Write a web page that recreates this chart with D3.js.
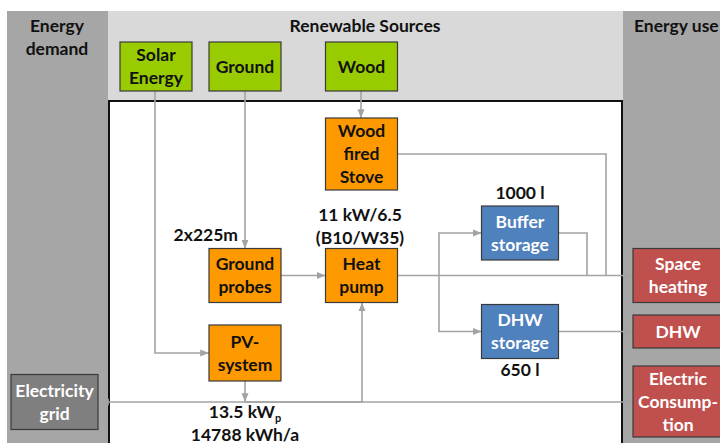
<!DOCTYPE html>
<html>
<head>
<meta charset="utf-8">
<script src="https://cdn.jsdelivr.net/npm/d3@7"></script>
<style>
  body { margin: 0; background: #fff; }
  text { font-family: Lato, "Open Sans", sans-serif; font-weight: bold; }
</style>
</head>
<body>
<svg id="chart" width="720" height="443"></svg>
<script>
// --- data ---
const nodeIds    = ["solar", "ground", "wood", "stove", "probes", "hp", "pv", "buffer", "dhwst", "space", "dhw", "elec", "grid"];
const nodeLabels = [["Solar", "Energy"], ["Ground"], ["Wood"], ["Wood", "fired", "Stove"], ["Ground", "probes"], ["Heat", "pump"],
                    ["PV-", "system"], ["Buffer", "storage"], ["DHW", "storage"], ["Space", "heating"], ["DHW"], ["Electric", "Consump-", "tion"], ["Electricity", "grid"]];
const nodeKinds  = ["source", "source", "source", "device", "device", "device", "device", "storage", "storage", "use", "use", "use", "grid"];
const nodeCols   = ["solar", "ground", "mid", "mid", "ground", "mid", "ground", "store", "store", "use", "use", "use", "grid"];
const nodeRows   = ["src", "src", "src", "stove", "hp", "hp", "pv", "buffer", "dhw", "hp", "dhwuse", "elec", "bus"];
// links: [from, to]
const links = [
  ["solar", "pv"], ["ground", "probes"], ["wood", "stove"], ["probes", "hp"], ["hp", "space"],
  ["stove", "space"], ["hp", "buffer"], ["hp", "dhwst"], ["buffer", "space"], ["dhwst", "dhw"],
  ["pv", "bus"], ["bus", "grid"], ["bus", "hp"], ["bus", "elec"]
];
const panelTitles = ["Energy\ndemand", "Renewable Sources", "Energy use"];
const notes = [["2x225m"], ["11 kW/6.5", "(B10/W35)"], ["1000 l"], ["650 l"], ["13.5 kW_p", "14788 kWh/a"]];

// --- layout scales ---
const x = d3.scaleOrdinal().domain(["grid", "solar", "ground", "mid", "store", "use", "split", "bufRet", "stoveRet"])
  .range([54.5, 156, 245, 361.5, 520, 678, 439, 587, 606]);
const y = d3.scaleOrdinal().domain(["src", "stove", "buffer", "hp", "dhw", "dhwuse", "pv", "bus", "elec"])
  .range([66.5, 154, 233, 275.5, 331.5, 331.5, 353, 402, 401.5]);
const size = {
  source: [72, 49], device: [72, 54], storage: [77, 54], use: [90, 54], grid: [87, 55]
};
const fills = { source: "#99cc00", device: "#ff9900", storage: "#4f81bd", use: "#c0504d", grid: "#7f7f7f" };
const textFill = { source: "#111", device: "#111", storage: "#fff", use: "#fff", grid: "#fff" };
const lineColor = "#a3a3a3";
const fs = 17.5;

const nodes = nodeIds.map((id, i) => {
  const kind = nodeKinds[i];
  let [w, h] = size[kind];
  if (id === "stove") h = 72;
  if (id === "pv") h = 56;
  if (id === "dhw") h = 33;
  if (id === "elec") h = 71;
  const cx = x(nodeCols[i]), cy = y(nodeRows[i]);
  const x0 = kind === "use" ? 633 : cx - w / 2;
  return { id, kind, lines: nodeLabels[i], cx, cy, w, h, x0, y0: cy - h / 2, x1: x0 + w, y1: cy + h / 2 };
});
const N = Object.fromEntries(nodes.map(n => [n.id, n]));

const svg = d3.select("#chart");
svg.append("defs").append("marker")
  .attr("id", "arr").attr("viewBox", "0 0 10 10").attr("refX", 10).attr("refY", 5)
  .attr("markerWidth", 5.5).attr("markerHeight", 5.5).attr("orient", "auto-start-reverse")
  .append("path").attr("d", "M0,1 L10,5 L0,9 z").attr("fill", lineColor);

// panels
svg.append("rect").attr("x", 7).attr("y", 11).attr("width", 101).attr("height", 440).attr("fill", "#a6a6a6");
svg.append("rect").attr("x", 623).attr("y", 11).attr("width", 100).attr("height", 440).attr("fill", "#a6a6a6");
svg.append("rect").attr("x", 108).attr("y", 11).attr("width", 515).attr("height", 90).attr("fill", "#d9d9d9");
svg.append("rect").attr("x", 109).attr("y", 101).attr("width", 513).attr("height", 360)
  .attr("fill", "#fff").attr("stroke", "#111").attr("stroke-width", 2);

const tg = svg.append("g").attr("fill", "#111").attr("font-size", fs);
panelTitles[0].split("\n").forEach((t, i) =>
  tg.append("text").attr("x", 57).attr("y", 32 + i * 23).attr("text-anchor", "middle").text(t));
tg.append("text").attr("x", 365).attr("y", 32).attr("text-anchor", "middle").text(panelTitles[1]);
tg.append("text").attr("x", 634).attr("y", 32).text(panelTitles[2]);

// links
const P = (a, b) => [a, b];
function route(f, t) {
  const split = x("split"), hpY = N.hp.cy, bus = y("bus");
  switch (f + ">" + t) {
    case "solar>pv": return [P(155, N.solar.y1), P(155, N.pv.cy), P(N.pv.x0, N.pv.cy)];
    case "ground>probes": return [P(245, N.ground.y1), P(245, N.probes.y0)];
    case "wood>stove": return [P(361, N.wood.y1), P(361, N.stove.y0)];
    case "probes>hp": return [P(N.probes.x1, hpY), P(N.hp.x0, hpY)];
    case "hp>space": return [P(N.hp.x1, hpY), P(N.space.x0, hpY)];
    case "stove>space": return [P(N.stove.x1, N.stove.cy), P(x("stoveRet"), N.stove.cy), P(x("stoveRet"), hpY)];
    case "hp>buffer": return [P(split, hpY), P(split, N.buffer.cy), P(N.buffer.x0, N.buffer.cy)];
    case "hp>dhwst": return [P(split, hpY), P(split, N.dhwst.cy), P(N.dhwst.x0, N.dhwst.cy)];
    case "buffer>space": return [P(N.buffer.x1, N.buffer.cy), P(x("bufRet"), N.buffer.cy), P(x("bufRet"), hpY)];
    case "dhwst>dhw": return [P(N.dhwst.x1, N.dhwst.cy), P(N.dhw.x0, N.dhwst.cy)];
    case "pv>bus": return [P(245, N.pv.y1), P(245, bus)];
    case "bus>grid": return [P(362, bus), P(N.grid.x1 + 2, bus)];
    case "bus>hp": return [P(362, bus), P(362, N.hp.y1)];
    case "bus>elec": return [P(245, bus), P(N.elec.x0, bus)];
  }
}
const noArrow = new Set(["stove>space", "buffer>space"]);
svg.append("g").selectAll("path").data(links).join("path")
  .attr("d", d => d3.line()(route(d[0], d[1])))
  .attr("fill", "none").attr("stroke", lineColor).attr("stroke-width", 1.6)
  .attr("marker-end", d => noArrow.has(d[0] + ">" + d[1]) ? null : "url(#arr)");

// nodes
const ng = svg.append("g").selectAll("g").data(nodes).join("g");
ng.append("rect")
  .attr("x", d => d.x0).attr("y", d => d.y0).attr("width", d => d.w).attr("height", d => d.h)
  .attr("fill", d => fills[d.kind]).attr("stroke", "#3a3a3a").attr("stroke-width", 1.2);
ng.each(function (d) {
  const g = d3.select(this);
  const lh = 23, n = d.lines.length;
  const tcx = d.kind === "use" ? 678 : d.cx;
  d.lines.forEach((t, i) => {
    g.append("text").attr("x", tcx).attr("y", d.cy + (i - (n - 1) / 2) * lh + 6)
      .attr("text-anchor", "middle").attr("font-size", fs)
      .attr("fill", textFill[d.kind]).text(t);
  });
});

// annotations
const ag = svg.append("g").attr("fill", "#111").attr("font-size", fs);
function note(lines, cx, cy, anchor) {
  lines.forEach((t, i) => {
    const el = ag.append("text").attr("x", cx).attr("y", cy + i * 23 + 6).attr("text-anchor", anchor || "middle");
    if (t.includes("_")) {
      const [a, b] = t.split("_");
      el.append("tspan").text(a);
      el.append("tspan").attr("dy", 4).attr("font-size", 11).text(b);
    } else el.text(t);
  });
}
note(notes[0], 238, 235, "end");
note(notes[1], 360, 215);
note(notes[2], x("store"), 193);
note(notes[3], x("store"), 370);
note(notes[4], 245, 412);
</script>
</body>
</html>
